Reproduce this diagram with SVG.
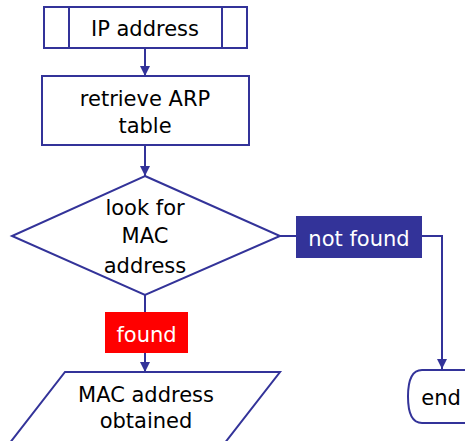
<svg xmlns="http://www.w3.org/2000/svg" width="465" height="441" viewBox="0 0 465 441">
<style>
.s{fill:#fff;stroke:#333399;stroke-width:2}
.c{fill:none;stroke:#333399;stroke-width:2}
.t{font-family:"DejaVu Sans",Verdana,sans-serif;font-size:21px;fill:#000;text-anchor:middle}
.w{fill:#fff}
</style>
<defs>
<marker id="a" viewBox="0 0 10 10" refX="10" refY="5" markerWidth="5" markerHeight="5" orient="auto" markerUnits="strokeWidth">
<path d="M0,0 L10,5 L0,10 z" fill="#333399"/>
</marker>
</defs>
<g id="connectors">
<line class="c" x1="145" y1="48" x2="145" y2="76" marker-end="url(#a)"/>
<line class="c" x1="145" y1="145" x2="145" y2="176" marker-end="url(#a)"/>
<line class="c" x1="280" y1="236" x2="296" y2="236"/>
<polyline class="c" points="422,236 442,236 442,369" marker-end="url(#a)"/>
<line class="c" x1="145" y1="295" x2="145" y2="312"/>
<line class="c" x1="145" y1="353" x2="145" y2="372" marker-end="url(#a)"/>
</g>
<g id="ip">
<rect class="s" x="44" y="7" width="203" height="41"/>
<line class="c" x1="69" y1="7" x2="69" y2="48"/>
<line class="c" x1="222" y1="7" x2="222" y2="48"/>
<text class="t" x="145" y="36">IP address</text>
</g>
<g id="retrieve">
<rect class="s" x="42" y="76" width="207" height="69"/>
<text class="t" x="145" y="106">retrieve ARP</text>
<text class="t" x="145" y="133">table</text>
</g>
<g id="lookfor">
<polygon class="s" points="145,176 280,236 145,295 12,236"/>
<text class="t" x="145" y="215">look for</text>
<text class="t" x="145" y="243">MAC</text>
<text class="t" x="145" y="273">address</text>
</g>
<g id="notfound">
<rect x="296" y="216" width="126" height="42" fill="#333399"/>
<text class="t w" x="359" y="246">not found</text>
</g>
<g id="found">
<rect x="105" y="312" width="83" height="41" fill="#ff0000"/>
<text class="t w" x="146.5" y="342">found</text>
</g>
<g id="obtained">
<polygon class="s" points="65,372 280,372 210,462 -5,462"/>
<text class="t" x="146" y="402">MAC address</text>
<text class="t" x="146" y="428">obtained</text>
</g>
<g id="end">
<path class="s" d="M472,370 H422 Q408,370 408,396.5 Q408,423 422,423 H472"/>
<text class="t" x="441" y="405">end</text>
</g>
</svg>
